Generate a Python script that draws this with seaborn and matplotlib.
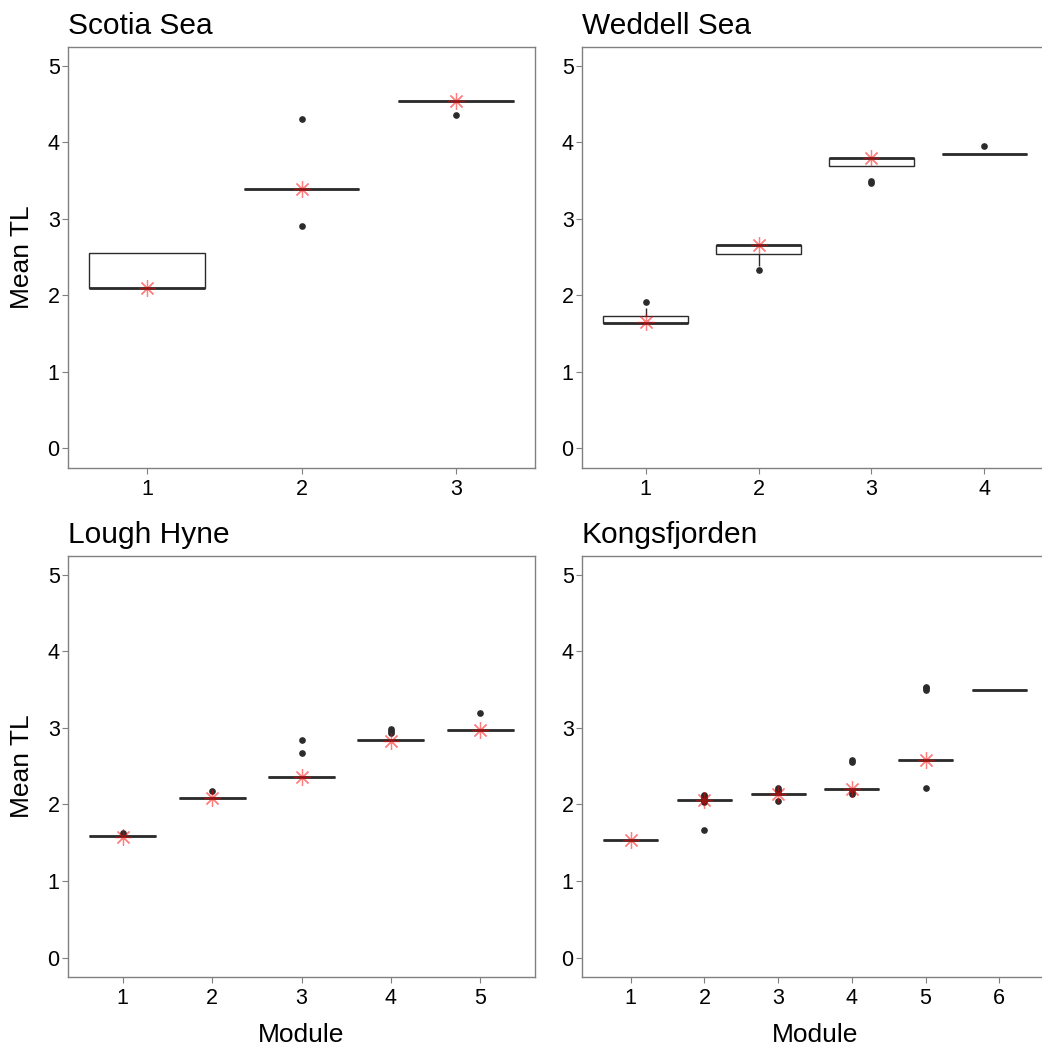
import numpy as np
import pandas as pd
import matplotlib
matplotlib.use("Agg")
import matplotlib.pyplot as plt
import seaborn as sns

scotia_tl = [[2.10, 2.10, 2.10, 2.55, 2.55],
             [2.90, 3.39, 3.39, 3.39, 3.39, 4.30],
             [4.35, 4.54, 4.54, 4.54, 4.54]]
scotia_mean = [2.10, 3.39, 4.54]

weddell_tl = [[1.64, 1.64, 1.64, 1.64, 1.64, 1.73, 1.73, 1.83, 1.91],
              [2.33, 2.38, 2.54, 2.60, 2.66, 2.66, 2.66, 2.66, 2.66],
              [3.47, 3.49, 3.69, 3.69, 3.79, 3.79, 3.79, 3.79, 3.79],
              [3.85, 3.85, 3.85, 3.85, 3.95]]
weddell_mean = [1.65, 2.66, 3.79, np.nan]

lough_tl = [[1.59, 1.59, 1.59, 1.59, 1.63],
            [2.09, 2.09, 2.09, 2.09, 2.17],
            [2.36, 2.36, 2.36, 2.36, 2.36, 2.36, 2.36, 2.67, 2.84],
            [2.84, 2.84, 2.84, 2.84, 2.84, 2.84, 2.84, 2.84, 2.84, 2.84, 2.93, 2.96, 2.99],
            [2.97, 2.97, 2.97, 2.97, 3.19]]
lough_mean = [1.58, 2.08, 2.36, 2.83, 2.97]

kongs_tl = [[1.54, 1.54, 1.54],
            [1.66, 2.03, 2.06, 2.06, 2.06, 2.06, 2.06, 2.06, 2.06, 2.06, 2.09, 2.11, 2.12],
            [2.04, 2.14, 2.14, 2.14, 2.14, 2.14, 2.14, 2.14, 2.14, 2.14, 2.17, 2.19, 2.21],
            [2.14, 2.16, 2.20, 2.20, 2.20, 2.20, 2.20, 2.20, 2.20, 2.20, 2.56, 2.58],
            [2.21, 2.58, 2.58, 2.58, 2.58, 2.58, 2.58, 2.58, 2.58, 2.58, 3.49, 3.52, 3.54],
            [3.49, 3.49, 3.49]]
kongs_mean = [1.54, 2.06, 2.14, 2.20, 2.58, np.nan]

titles = ["Scotia Sea", "Weddell Sea", "Lough Hyne", "Kongsfjorden"]

sns.set_style("white")
plt.rcParams["font.family"] = ["Liberation Sans", "DejaVu Sans"]
plt.rcParams["text.color"] = "black"
plt.rcParams["axes.labelcolor"] = "black"

W, H = 1042, 1048
fig = plt.figure(figsize=(W / 100, H / 100), dpi=100)

boxes = [(68, 46.5, 535, 467.5), (582, 46.5, 1048, 467.5),
         (68, 555.7, 535, 976.7), (582, 555.7, 1048, 976.7)]
panels = [(scotia_tl, scotia_mean), (weddell_tl, weddell_mean),
          (lough_tl, lough_mean), (kongs_tl, kongs_mean)]

dark = "#2b2b2b"
grey = "#808080"

for k, ((tl, means), (l, t, r, b)) in enumerate(zip(panels, boxes)):
    ax = fig.add_axes([l / W, 1 - b / H, (r - l) / W, (b - t) / H])
    order = [str(i + 1) for i in range(len(tl))]
    rows = [(str(i + 1), v) for i, vals in enumerate(tl) for v in vals]
    df = pd.DataFrame(rows, columns=["Module", "TL"])
    sns.boxplot(data=df, x="Module", y="TL", order=order, ax=ax,
                color="white", linecolor=dark, linewidth=1.0, width=0.75,
                showcaps=False, fliersize=3.8,
                flierprops=dict(marker="o", markerfacecolor=dark, markeredgecolor=dark),
                medianprops=dict(linewidth=2.0, color=dark))
    ax.plot(np.arange(len(means)), means, ls="none", marker=(8, 2, 0), ms=12,
            mew=0.9, color="red", alpha=0.5, zorder=5)

    n = len(tl)
    ex = 0.05 * (n - 1 + 0.75)
    ax.set_xlim(-0.375 - ex, n - 1 + 0.375 + ex)
    ax.set_ylim(-0.25, 5.25)
    ax.set_yticks(range(6))

    for s in ax.spines.values():
        s.set_visible(True)
        s.set_color(grey)
        s.set_linewidth(1.0)
    ax.tick_params(axis="both", bottom=True, left=True, length=4, width=0.8,
                   color=grey, labelsize=15.5, labelcolor="black")
    ax.tick_params(axis="x", pad=4)
    ax.tick_params(axis="y", pad=2)

    ax.set_title(titles[k], loc="left", fontsize=21.5, pad=9, color="black")
    if k % 2 == 0:
        ax.set_ylabel("Mean TL", fontsize=19, labelpad=10)
    else:
        ax.set_ylabel("")
    if k >= 2:
        ax.set_xlabel("Module", fontsize=19, labelpad=10)
    else:
        ax.set_xlabel("")

fig.savefig("out.png", dpi=100)
